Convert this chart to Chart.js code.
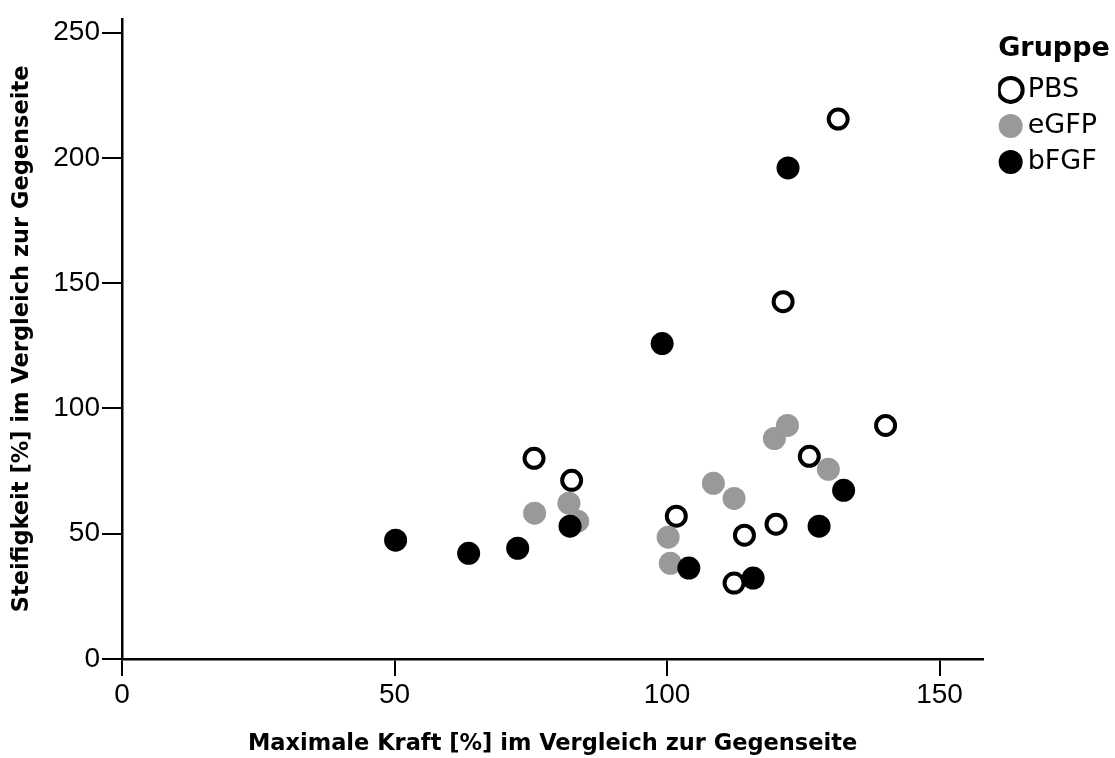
<!DOCTYPE html>
<html>
<head>
<meta charset="utf-8">
<script src="https://cdn.jsdelivr.net/npm/chart.js@4.4.0/dist/chart.umd.min.js"></script>
<style>
  html, body { margin: 0; padding: 0; background: #fff; }
  #wrap { width: 1115px; height: 758px; }
</style>
</head>
<body>
<div id="wrap"><canvas id="chart"></canvas></div>
<script>
var pbsKraft   = [75.6, 82.5, 101.7, 114.2, 112.3, 120.0, 126.1, 121.3, 131.4, 140.1];
var pbsSteif   = [80.1, 71.3, 57.0, 49.4, 30.3, 53.8, 80.9, 142.6, 215.5, 93.2];

var egfpKraft  = [75.7, 82.0, 83.6, 100.2, 100.6, 108.5, 112.3, 119.7, 122.1, 129.6];
var egfpSteif  = [58.2, 62.2, 55.0, 48.6, 38.2, 70.1, 64.1, 88.0, 93.2, 75.7];

var bfgfKraft  = [50.2, 63.6, 72.6, 82.2, 99.1, 104.0, 115.8, 122.2, 127.9, 132.4];
var bfgfSteif  = [47.4, 42.2, 44.2, 53.0, 125.9, 36.3, 32.3, 196.0, 53.0, 67.3];

var xTicks = [0, 50, 100, 150];
var yTicks = [0, 50, 100, 150, 200, 250];

function toPoints(xs, ys) {
	return xs.map(function(x, i) { return {x: x, y: ys[i]}; });
}

// Legende etwas nach rechts schieben (wie im Original)
var legendShift = {
	id: 'legendShift',
	afterLayout: function(chart) {
		chart.legend.left = chart.chartArea.right + 15;
		chart.legend.right = chart.width;
	}
};

var ctx = document.getElementById('chart').getContext('2d');
ctx.canvas.width = 1115;
ctx.canvas.height = 758;

var chart = new Chart(ctx, {
	type: 'scatter',
	plugins: [legendShift],
	data: {
		datasets: [{
			label: 'PBS',
			data: toPoints(pbsKraft, pbsSteif),
			backgroundColor: '#fff',
			borderColor: '#000',
			borderWidth: 4,
			pointRadius: 9.5,
			order: 3
		}, {
			label: 'eGFP',
			data: toPoints(egfpKraft, egfpSteif),
			backgroundColor: '#999',
			borderColor: '#999',
			borderWidth: 0,
			pointRadius: 11.5,
			order: 2
		}, {
			label: 'bFGF',
			data: toPoints(bfgfKraft, bfgfSteif),
			backgroundColor: '#000',
			borderColor: '#000',
			borderWidth: 0,
			pointRadius: 11.5,
			order: 1
		}]
	},
	options: {
		responsive: false,
		animation: false,
		layout: { padding: { top: 18, right: 23, left: 0, bottom: 0 } },
		plugins: {
			tooltip: { enabled: false },
			legend: {
				position: 'right',
				align: 'start',
				title: {
					display: true,
					text: 'Gruppe',
					position: 'start',
					color: '#000',
					padding: { top: 17, bottom: 0 },
					font: { family: 'DejaVu Sans', size: 27, weight: 'bold' }
				},
				labels: {
					usePointStyle: true,
					pointStyle: 'circle',
					boxWidth: 7,
					boxHeight: 17,
					padding: 9,
					color: '#000',
					font: { family: 'DejaVu Sans', size: 27 },
					sort: function(a, b) { return a.datasetIndex - b.datasetIndex; }
				}
			}
		},
		scales: {
			x: {
				type: 'linear',
				min: 0,
				max: 158,
				afterFit: function(scale) { scale.height = 99; },
				afterBuildTicks: function(scale) {
					scale.ticks = xTicks.map(function(v) { return {value: v}; });
				},
				border: { display: true, color: '#000', width: 2.5 },
				grid: { display: true, drawOnChartArea: false, drawTicks: true, tickLength: 17, color: '#000', lineWidth: 2 },
				ticks: {
					color: '#000',
					padding: 2,
					maxRotation: 0,
					font: { family: 'Liberation Sans', size: 28 }
				},
				title: {
					display: true,
					text: 'Maximale Kraft [%] im Vergleich zur Gegenseite',
					color: '#000',
					padding: { top: 0, bottom: 0 },
					font: { family: 'DejaVu Sans', size: 22.5, weight: 'bold' }
				}
			},
			y: {
				type: 'linear',
				min: 0,
				max: 255.5,
				afterFit: function(scale) { scale.width = 122; },
				afterBuildTicks: function(scale) {
					scale.ticks = yTicks.map(function(v) { return {value: v}; });
				},
				border: { display: true, color: '#000', width: 2.5 },
				grid: { display: true, drawOnChartArea: false, drawTicks: true, tickLength: 20, color: '#000', lineWidth: 2 },
				ticks: {
					color: '#000',
					padding: 2,
					font: { family: 'Liberation Sans', size: 28 }
				},
				title: {
					display: true,
					text: 'Steifigkeit [%] im Vergleich zur Gegenseite',
					color: '#000',
					padding: { top: 9, bottom: 0 },
					font: { family: 'DejaVu Sans', size: 22.5, weight: 'bold' }
				}
			}
		}
	}
});
</script>
</body>
</html>
